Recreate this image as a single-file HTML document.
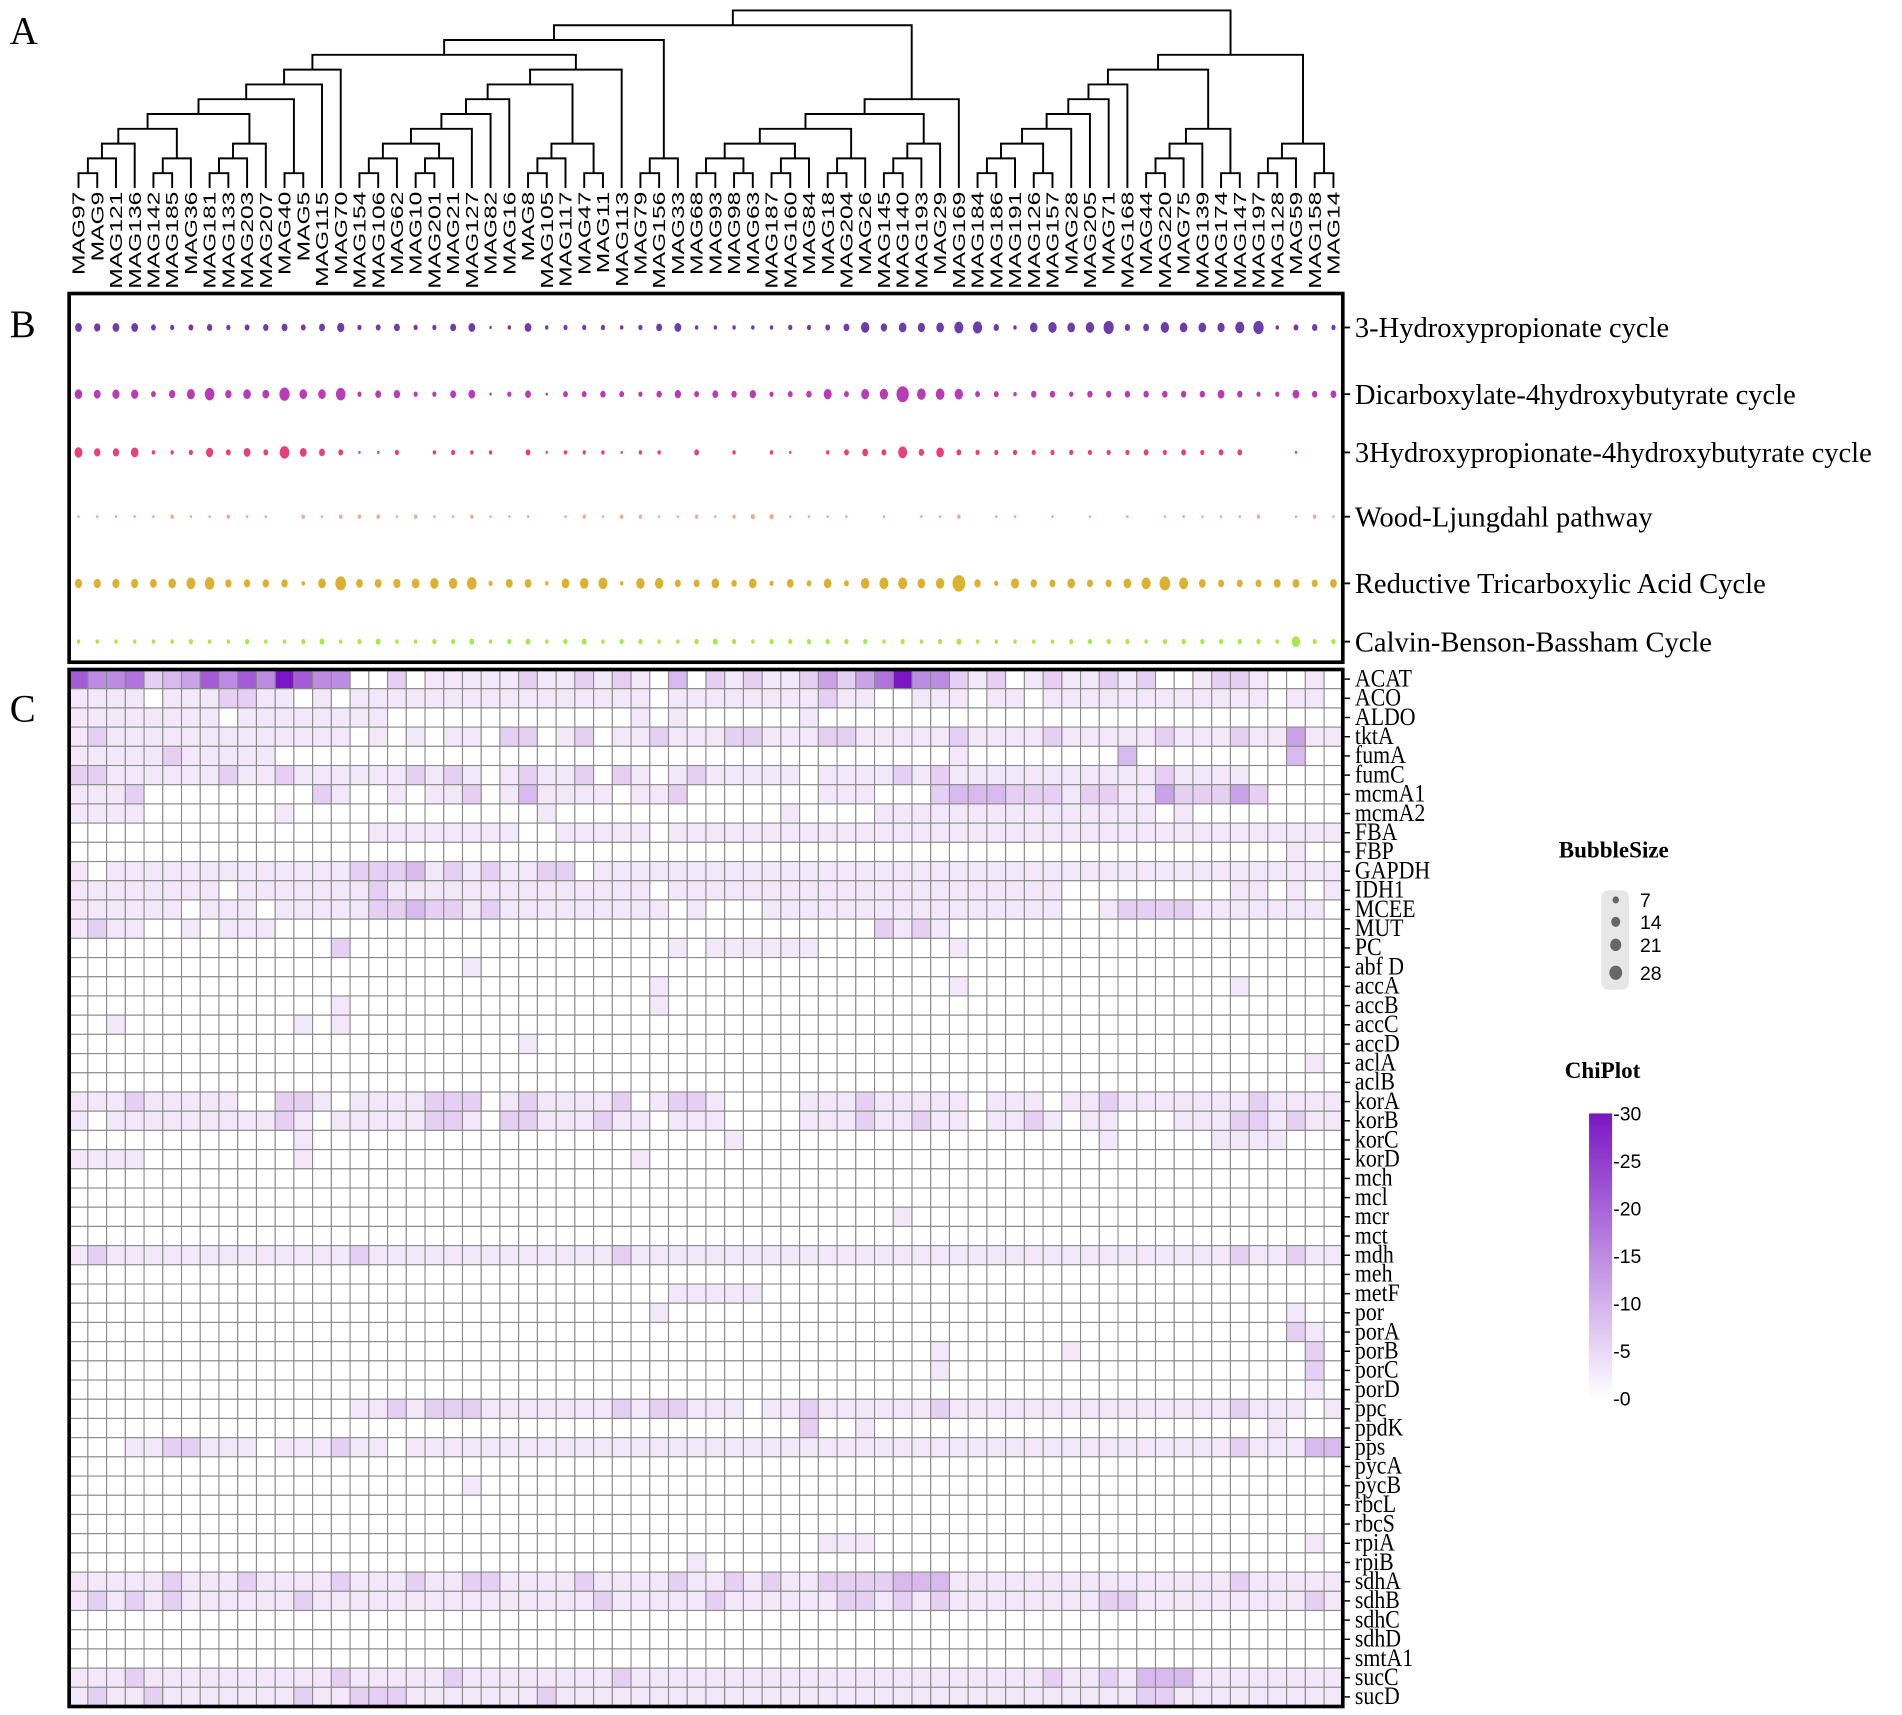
<!DOCTYPE html>
<html><head><meta charset="utf-8"><style>
html,body{margin:0;padding:0;background:#fff;}
svg{display:block;}
text{font-family:"Liberation Serif",serif;}
.sans{font-family:"Liberation Sans",sans-serif;}
</style></head><body>
<svg id="fig" width="1902" height="1715" viewBox="0 0 1568 1414" preserveAspectRatio="none" xmlns="http://www.w3.org/2000/svg">
<rect x="0" y="0" width="1568" height="1414" fill="#fff"/>
<text x="8" y="36" font-size="32">A</text>
<text x="8" y="278" font-size="32">B</text>
<text x="8" y="595" font-size="32">C</text>
<g id="dendro"></g>
<g id="leafLabels"></g>
<g id="bubbles"></g>
<g id="heat"></g>
<g id="legend">
<text x="1285" y="707" font-size="19" font-weight="bold">BubbleSize</text>
<rect x="1320" y="734" width="23" height="82" rx="6" fill="#e6e6e6"/>
<text x="1290" y="889" font-size="19" font-weight="bold">ChiPlot</text>
<defs><linearGradient id="cg" x1="0" y1="1" x2="0" y2="0"><stop offset="0" stop-color="#ffffff"/><stop offset="1" stop-color="#7b16c4"/></linearGradient></defs>
<rect x="1310" y="918" width="19" height="235" fill="url(#cg)"/>
</g>
</svg>
<script>
const NS="http://www.w3.org/2000/svg";
const leaves=["MAG97","MAG9","MAG121","MAG136","MAG142","MAG185","MAG36","MAG181","MAG133","MAG203","MAG207","MAG40","MAG5","MAG115","MAG70","MAG154","MAG106","MAG62","MAG10","MAG201","MAG21","MAG127","MAG82","MAG16","MAG8","MAG105","MAG117","MAG47","MAG11","MAG113","MAG79","MAG156","MAG33","MAG68","MAG93","MAG98","MAG63","MAG187","MAG160","MAG84","MAG18","MAG204","MAG26","MAG145","MAG140","MAG193","MAG29","MAG169","MAG184","MAG186","MAG191","MAG126","MAG157","MAG28","MAG205","MAG71","MAG168","MAG44","MAG220","MAG75","MAG139","MAG174","MAG147","MAG197","MAG128","MAG59","MAG158","MAG14"];
// tree: [left,right,level]
const A6=[[[[[[[[0,1,1],2,2],3,3],[[4,5,1],6,2],4],[[[7,8,1],9,2],10,3],5],[11,12,1],6],13,7],14,8];
const BC2=[[[[[[[[15,16,1],17,2],[[18,19,1],20,2],3],21,4],22,5],23,6],[[[24,25,1],26,2],[27,28,1],3],7],29,8];
const L10=[[A6,BC2,9],[[30,31,1],32,2],10];
const M4=[[[[[[33,34,1],[35,36,1],2],[[37,38,1],39,2],3],[[40,41,1],42,2],4],[[[43,44,1],45,2],46,3],5],47,6];
const R8=[[[[[[[[48,49,1],50,2],[51,52,1],3],53,4],54,5],55,6],56,7],[[[[57,58,1],59,2],60,3],[61,62,1],4],8];
const R10=[R8,[[[63,64,1],65,2],[66,67,1],3],9];
const tree=[[L10,M4,11],R10,12];

const pathways=["3-Hydroxypropionate cycle","Dicarboxylate-4hydroxybutyrate cycle","3Hydroxypropionate-4hydroxybutyrate cycle","Wood-Ljungdahl pathway","Reductive Tricarboxylic Acid Cycle","Calvin-Benson-Bassham Cycle"];
const pathColors=["#6a3fa8","#b83cb2","#e8407a","#f5a888","#dcb030","#a8e84a"];
const hp3=[8,7,8,8,4,3,4,5,3,4, 5,6,4,6,9,3,4,6,3,3, 6,8,1,2,8,2,3,3,3,2, 3,6,8,2,2,2,2,2,3,3, 4,6,12,7,10,9,10,14,15,5, 2,10,12,10,12,18,5,6,12,10, 10,9,14,18,2,4,5,3];
const dc4hb=[10,8,9,9,4,7,11,16,7,10, 8,18,10,10,16,3,6,7,3,3, 6,8,1,3,6,1,4,4,5,4, 3,5,7,4,6,5,7,3,4,5, 11,4,11,12,26,13,13,12,4,4, 2,5,5,3,5,5,5,5,5,5, 5,8,5,3,3,8,5,6];
const hp4hb=[11,7,7,10,2,2,3,9,4,8, 4,16,8,6,4,1,1,3,0,2, 3,2,2,0,4,1,2,2,2,1, 2,2,0,4,0,2,0,2,1,0, 2,4,6,4,14,5,10,4,3,3, 3,3,3,3,3,3,3,4,3,4, 3,4,4,0,0,1,0,0];
const wl=[1,1,1,1,1,2,1,1,2,1, 1,0,2,1,2,2,2,1,2,1, 1,2,1,1,1,0,1,2,1,2, 2,1,1,2,1,2,3,3,1,1, 1,1,0,1,0,1,1,2,0,1, 1,0,1,0,1,0,1,0,1,1, 1,1,1,2,0,1,2,1];
const rtca=[9,9,9,9,8,10,14,16,7,7, 7,7,2,10,20,8,8,9,10,12, 12,16,3,8,8,2,10,12,14,2, 12,12,6,6,10,5,10,3,8,4, 10,4,12,14,14,10,12,28,7,3, 11,7,6,10,6,6,10,14,20,14, 8,6,6,6,8,8,6,8];
const cbb=[2,2,2,2,2,2,3,2,2,3, 2,2,3,4,2,3,4,2,2,3, 3,4,2,3,4,2,3,4,2,3, 3,2,2,3,4,3,2,3,3,3, 3,3,3,2,3,2,3,4,2,2, 2,2,2,3,3,3,3,2,3,3, 3,3,3,3,2,12,3,3];
const bubbleSeries=[hp3,dc4hb,hp4hb,wl,rtca,cbb];
const legendSizes=[7,14,21,28];

const genes=["ACAT","ACO","ALDO","tktA","fumA","fumC","mcmA1","mcmA2","FBA","FBP","GAPDH","IDH1","MCEE","MUT","PC","abf D","accA","accB","accC","accD","aclA","aclB","korA","korB","korC","korD","mch","mcl","mcr","mct","mdh","meh","metF","por","porA","porB","porC","porD","ppc","ppdK","pps","pycA","pycB","rbcL","rbcS","rpiA","rpiB","sdhA","sdhB","sdhC","sdhD","smtA1","sucC","sucD"];
// each char: level (0-9 => value*3, a => 30)
const heatRows=[
"75562347575a75500"+"20111112112121030"+"2121124246a552120"+"12112120012210010",
"11110111221101011"+"11111111111111011"+"11111121100111011"+"01111111111110110",
"11111111011111111"+"00000000000001010"+"00000100000000000"+"00000000000000000",
"12111111111111101"+"01011022012011211"+"12211122111112111"+"12111112111211411",
"11111211111000000"+"00000000000000000"+"00000000000001000"+"00000300000000300",
"22111111211211111"+"12121012112021012"+"11111011112121111"+"11111112111100000",
"11120000000002100"+"10112013111101120"+"00000011100023332"+"22122114222420000",
"11110000000100000"+"00000000100000000"+"00001000011111111"+"11111110100000000",
"00000000000000001"+"11111110011111011"+"11111111111111111"+"11111111111111111",
"00000000000000000"+"00000000000000000"+"00000000000000000"+"00000000000000100",
"10111111111111122"+"23121211220111111"+"11111111111111111"+"11111111111111111",
"11111111011111112"+"11111111111111011"+"11111111111111111"+"11000000000110101",
"11111101110111112"+"23221211111111101"+"00011111111111111"+"11001222211111110",
"12110010111000000"+"00000000000000000"+"00000000021210000"+"00000000000000000",
"00000000000000200"+"00000000000000010"+"11111100000001000"+"00000000000000000",
"00000000000000000"+"00001000000000000"+"00000000000000000"+"00000000000000000",
"00000000000000000"+"00000000000000100"+"00000000000001000"+"00000000000100000",
"00000000000000100"+"00000000000000100"+"00000000000000000"+"00000000000000000",
"00100000000010100"+"00000000000000000"+"00000000000000000"+"00000000000000000",
"00000000000000000"+"00000001000000000"+"00000000000000000"+"00000000000000000",
"00000000000000000"+"00000000000000000"+"00000000000000000"+"00000000000000010",
"00000000000000000"+"00000000000000000"+"00000000000000000"+"00000000000000000",
"11121111100221011"+"11222012111120122"+"10000111211111011"+"10112111111121111",
"10111111111210111"+"11221022111211011"+"10000111211211011"+"21011000111221211",
"00000000000010000"+"00000000000000000"+"01000000000000000"+"00001000001111000",
"11110000000010000"+"00000000000001000"+"00000000000000000"+"00000000000000000",
"00000000000000000"+"00000000000000000"+"00000000000000000"+"00000000000000000",
"00000000000000000"+"00000000000000000"+"00000000000000000"+"00000000000000000",
"00000000000000000"+"00000000000000000"+"00000000001000000"+"00000000000000000",
"00000000000000000"+"00000000000000000"+"00000000000000000"+"00000000000000000",
"12111111111111121"+"11111111111121111"+"11111111111111111"+"11111111111211211",
"00000000000000000"+"00000000000000000"+"00000000000000000"+"00000000000000000",
"00000000000000000"+"00000000000000011"+"11100000000000000"+"00000000000000000",
"00000000000000000"+"00000000000000100"+"00000000000000000"+"00000000000000100",
"00000000000000000"+"00000000000000000"+"00000000000000000"+"00000000000000210",
"00000000000000000"+"00000000000000000"+"00000000000010000"+"00100000000000020",
"00000000000000000"+"00000000000000000"+"00000000000010000"+"00000000000000020",
"00000000000000000"+"00000000000000000"+"00000000000000000"+"00000000000000010",
"00000000000000011"+"21222111111121221"+"11011211111121111"+"11111111111211101",
"00000000000000000"+"00000000000000000"+"00000200100000000"+"00000000000001000",
"00011221110111211"+"01111111111111111"+"11111111111111111"+"11111111111211133",
"00000000000000000"+"00000000000000000"+"00000000000000000"+"00000000000000000",
"00000000000000000"+"00001000000000000"+"00000000000000000"+"00000000000000000",
"00000000000000000"+"00000000000000000"+"00000000000000000"+"00000000000000000",
"00000000000000000"+"00000000000000000"+"00000000000000000"+"00000000000000000",
"00000000000000000"+"00000000000000000"+"00000011100000000"+"00000000000000010",
"00000000000000000"+"00000000000000001"+"00000000000000000"+"00000000000000000",
"11111211121111211"+"12112211112111121"+"12121122223331111"+"11111111111211111",
"12121211111121111"+"11111111111211111"+"21111112212121111"+"11112211111111121",
"00000000000000000"+"00000000000000000"+"00000000000000000"+"00000000000000000",
"00000000000000000"+"00000000000000000"+"00000000000000000"+"00000000000000000",
"00000000000000000"+"00000000000000000"+"00000000000000000"+"00000000000000000",
"11121111111111211"+"11121111111121111"+"11111111111111111"+"12112133311111111",
"12112111111121122"+"21111111211111111"+"11111111111111111"+"11111122111111111"
];
const colorTicks=[30,25,20,15,10,5,0];

// geometry
const X0=57,X1=1107,N=leaves.length,CW=(X1-X0)/N;
const xOf=i=>X0+(i+0.5)*CW;
const LEAFY=155,LSTEP=12.2;
const yLev=l=>LEAFY-l*LSTEP;
function mk(tag,attrs,parent){const e=document.createElementNS(NS,tag);for(const k in attrs)e.setAttribute(k,attrs[k]);parent.appendChild(e);return e;}

// dendrogram
const dg=document.getElementById('dendro');
function draw(n){
  if(typeof n==='number')return {x:xOf(n),y:LEAFY};
  const a=draw(n[0]),b=draw(n[1]),y=yLev(n[2]);
  const p=mk('path',{d:`M${a.x},${a.y}V${y}H${b.x}V${b.y}`,fill:'none',stroke:'#000','stroke-width':1.6},dg);
  
  
  return {x:(a.x+b.x)/2,y:y};
}
draw(tree);
const ll=document.getElementById('leafLabels');
leaves.forEach((s,i)=>{
  const x=xOf(i)+5,y=158;
  const t=mk('text',{x:0,y:0,'font-size':14.5,'text-anchor':'end',class:'sans',transform:`translate(${x} ${y}) rotate(-90) scale(1.4 1)`},ll);
  t.textContent=s;
  
  
});

// bubble panel
const bg=document.getElementById('bubbles');
const BY0=242,BY1=546;
const rowY=[270,325,373,426,481,529];
const rOf=v=>v<=0?0:6.2*Math.sqrt(v/28);
bubbleSeries.forEach((ser,r)=>{
  ser.forEach((v,i)=>{
    if(v<=0)return;
    const c=mk('ellipse',{cx:xOf(i),cy:rowY[r],rx:rOf(v)*0.85,ry:rOf(v)*1.1,fill:pathColors[r]},bg);
    
    
  });
  const tk=mk('line',{x1:X1+1.5,x2:X1+6,y1:rowY[r],y2:rowY[r],stroke:'#000','stroke-width':1.5},bg);
  
  
  const t=mk('text',{x:1117,y:rowY[r]+8,'font-size':23.5},bg);
  t.textContent=pathways[r];
  
  
});
const bb=mk('rect',{x:X0,y:BY0,width:X1-X0,height:BY1-BY0,fill:'none',stroke:'#000','stroke-width':3},bg);



// heatmap
const hg=document.getElementById('heat');
const HY0=552,HY1=1407,RH=(HY1-HY0)/genes.length;
function col(v){const t=Math.min(1,v/30);const r=Math.round(255+(123-255)*t),g=Math.round(255+(22-255)*t),b=Math.round(255+(196-255)*t);return `rgb(${r},${g},${b})`;}
heatRows.forEach((row,r)=>{
  for(let i=0;i<N;i++){
    const ch=row[i]||'0';const v=(ch==='a'?10:parseInt(ch,10))*3;
    const c=mk('rect',{x:X0+i*CW,y:HY0+r*RH,width:CW,height:RH,fill:col(v),stroke:'#8a8a8a','stroke-width':0.9},hg);
    
    
  }
  const yc=HY0+(r+0.5)*RH;
  const tk=mk('line',{x1:X1+1.5,x2:X1+6,y1:yc,y2:yc,stroke:'#000','stroke-width':1.2},hg);
  
  
  const t=mk('text',{x:0,y:0,'font-size':18,transform:`translate(1117 ${yc+6}) scale(1 1.15)`},hg);
  t.textContent=genes[r];
  
  
});
const hb=mk('rect',{x:X0,y:HY0,width:X1-X0,height:HY1-HY0,fill:'none',stroke:'#000','stroke-width':3},hg);



// legends
const lg=document.getElementById('legend');
const legY=[742,760,779,802];
legendSizes.forEach((s,k)=>{
  const c=mk('ellipse',{cx:1332,cy:legY[k],rx:rOf(s)*0.85,ry:rOf(s)*0.95,fill:'#666'},lg);
  
  
  const t=mk('text',{x:1352,y:legY[k]+6,'font-size':16,class:'sans'},lg);
  t.textContent=s;
  
  
});
const CB0=918,CB1=1153;
colorTicks.forEach(v=>{
  const y=CB1-(v/30)*(CB1-CB0);
  const t=mk('text',{x:1330,y:y+6,'font-size':16,class:'sans'},lg);
  t.textContent='-'+v;
  
  
});
</script>
</body></html>
